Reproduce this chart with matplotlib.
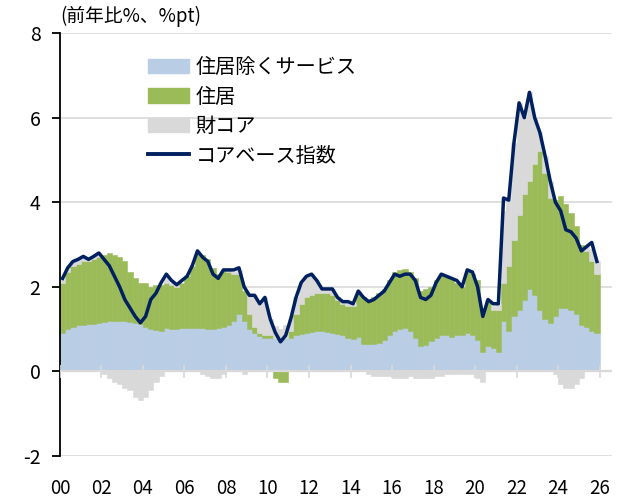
import numpy as np
import matplotlib
matplotlib.use("Agg")
import matplotlib.pyplot as plt
from matplotlib.patches import Patch
from matplotlib.lines import Line2D

plt.rcParams['font.family'] = ['Noto Sans CJK JP', 'DejaVu Sans']

# quarterly values, 2000Q1 .. 2025Q4 (%pt, y/y)
services_ex_housing = [
    0.92, 1.00, 1.06, 1.10,  1.10, 1.12, 1.12, 1.15,  1.18, 1.20, 1.20, 1.20,
    1.20, 1.18, 1.15, 1.12,  1.05, 1.00, 0.98, 0.95,  1.02, 1.00, 1.00, 1.02,
    1.03, 1.03, 1.03, 1.02,  1.00, 1.00, 1.02, 1.06,  1.10, 1.20, 1.35, 1.20,
    1.00, 0.90, 0.83, 0.80,  0.80, 0.80, 0.78, 0.78,  0.80, 0.85, 0.88, 0.90,
    0.93, 0.95, 0.95, 0.93,  0.90, 0.88, 0.85, 0.80,  0.76, 0.82, 0.66, 0.64,
    0.65, 0.68, 0.75, 0.85,  0.95, 1.00, 1.03, 0.95,  0.80, 0.60, 0.62, 0.72,
    0.78, 0.87, 0.87, 0.82,  0.85, 0.85, 0.90, 0.85,  0.75, 0.45, 0.60, 0.55,
    0.45, 1.20, 0.95, 1.30,  1.45, 1.70, 1.95, 1.80,  1.45, 1.25, 1.15, 1.30,
    1.50, 1.50, 1.45, 1.35,  1.10, 1.05, 0.95, 0.92,
]
housing = [
    1.18, 1.35, 1.44, 1.45,  1.50, 1.48, 1.53, 1.55,  1.57, 1.60, 1.55, 1.50,
    1.40, 1.17, 1.05, 0.98,  1.05, 1.00, 1.07, 1.10,  1.08, 1.05, 1.00, 1.08,
    1.22, 1.47, 1.77, 1.73,  1.65, 1.45, 1.28, 1.34,  1.25, 1.10, 0.95, 0.70,
    0.35, 0.15, 0.07, 0.05,  0.05, -0.15, -0.25, -0.25,  0.15, 0.50, 0.72, 0.85,
    0.87, 0.90, 0.90, 0.92,  0.90, 0.82, 0.75, 0.75,  0.79, 1.03, 1.09, 1.01,
    1.10, 1.17, 1.20, 1.30,  1.40, 1.40, 1.39, 1.40,  1.40, 1.30, 1.33, 1.28,
    1.37, 1.43, 1.38, 1.38,  1.25, 1.15, 1.45, 1.45,  1.40, 0.95, 1.05, 0.90,
    1.00, 0.90, 1.55, 1.80,  2.25, 2.50, 2.55, 3.10,  3.75, 3.45, 2.95, 2.75,
    2.65, 2.45, 2.30, 2.10,  1.90, 1.80, 1.65, 1.38,
]
core_goods = [
    0.10, 0.10, 0.10, 0.10,  0.10, 0.05, 0.05, 0.10,  -0.05, -0.15, -0.25, -0.30,
    -0.40, -0.45, -0.60, -0.68,  -0.60, -0.45, -0.25, -0.10,  0.10, 0.05, 0.05, 0.00,
    0.00, 0.00, 0.05, -0.05,  -0.10, -0.15, -0.15, -0.05,  0.05, 0.05, 0.10, -0.05,
    0.45, 0.75, 0.70, 0.90,  0.40, 0.27, 0.22, 0.32,  0.30, 0.40, 0.50, 0.50,
    0.50, 0.30, 0.10, 0.10,  0.15, 0.05, 0.05, 0.10,  0.05, 0.05, 0.00, -0.05,
    -0.10, -0.10, -0.10, -0.10,  -0.15, -0.15, -0.15, -0.10,  -0.15, -0.15, -0.15, -0.15,
    -0.10, -0.10, -0.05, -0.05,  -0.05, -0.05, -0.05, -0.05,  -0.15, -0.25, 0.05, 0.10,
    0.15, 1.70, 1.55, 2.30,  2.65, 1.80, 2.10, 1.10,  0.45, 0.40, 0.40, -0.05,
    -0.30, -0.40, -0.40, -0.30,  -0.15, 0.10, 0.30, 0.30,
]
core_index = [
    2.20, 2.45, 2.60, 2.65,  2.72, 2.65, 2.72, 2.80,  2.65, 2.50, 2.25, 2.00,
    1.70, 1.50, 1.30, 1.15,  1.30, 1.70, 1.85, 2.10,  2.30, 2.15, 2.05, 2.15,
    2.25, 2.50, 2.85, 2.70,  2.60, 2.30, 2.20, 2.40,  2.40, 2.40, 2.45, 2.00,
    1.80, 1.80, 1.60, 1.75,  1.25, 0.92, 0.70, 0.85,  1.25, 1.75, 2.10, 2.25,
    2.30, 2.15, 1.95, 1.95,  1.95, 1.75, 1.65, 1.65,  1.60, 1.90, 1.75, 1.65,
    1.70, 1.80, 1.90, 2.10,  2.30, 2.25, 2.30, 2.30,  2.15, 1.75, 1.70, 1.80,
    2.10, 2.30, 2.25, 2.20,  2.15, 2.00, 2.40, 2.35,  2.00, 1.30, 1.70, 1.60,
    1.60, 4.10, 4.05, 5.40,  6.35, 6.00, 6.60, 6.00,  5.65, 5.10, 4.50, 4.00,
    3.80, 3.35, 3.30, 3.15,  2.85, 2.95, 3.05, 2.60,
]
labels = ['住居除くサービス', '住居', '財コア', 'コアベース指数']
colors = ['#b9cde5', '#9bbb59', '#d9d9d9']
line_color = '#002060'
year_ticks = list(range(2000, 2027, 2))

t = 2000 + np.arange(len(core_index)) * 0.25

fig = plt.figure(figsize=(6.26, 5.01), dpi=100)
ax = fig.add_axes([0.0958, 0.0898, 0.8818, 0.8442])

# stacked columns, positives and negatives stacked separately
pos_base = np.zeros(len(t))
neg_base = np.zeros(len(t))
for vals, c in zip([services_ex_housing, housing, core_goods], colors):
    v = np.array(vals)
    bottom = np.where(v >= 0, pos_base, neg_base)
    ax.bar(t, v, width=0.25, bottom=bottom, align='edge', color=c,
           edgecolor=c, linewidth=0.4, zorder=2)
    pos_base = pos_base + np.where(v >= 0, v, 0)
    neg_base = neg_base + np.where(v < 0, v, 0)

ax.plot(t + 0.125, core_index, color=line_color, lw=2.5, zorder=4,
        solid_joinstyle='round')

# grid and zero line
for y in [8, 6, 4, 2, -2]:
    ax.axhline(y, color='#d9d9d9', lw=1.2, zorder=1)
ax.axhline(0, color='#d9d9d9', lw=1.6, zorder=3)
ax.vlines(year_ticks, -0.15, 0.15, color='#d9d9d9', lw=1.2, zorder=3)

ax.set_xlim(2000, 2026.6)
ax.set_ylim(-2, 8)
ax.set_yticks([-2, 0, 2, 4, 6, 8])
ax.set_yticklabels(['-2', '0', '2', '4', '6', '8'])
ax.set_xticks(year_ticks)
ax.set_xticklabels(['%02d' % (y % 100) for y in year_ticks])
ax.tick_params(axis='x', length=0, pad=16, labelsize=13.5)
ax.tick_params(axis='y', length=6, width=1.3, direction='out', pad=8,
               labelsize=14)
for s in ['top', 'right', 'bottom']:
    ax.spines[s].set_visible(False)
ax.spines['left'].set_linewidth(1.3)

fig.text(0.097, 0.968, '(前年比%、%pt)', fontsize=13.5, va='center', ha='left')

handles = [Patch(facecolor=c, edgecolor=c) for c in colors]
handles.append(Line2D([0], [0], color=line_color, lw=2.8))
ax.legend(handles, labels, loc='upper left', bbox_to_anchor=(0.145, 0.962),
          frameon=False, fontsize=14.5, handlelength=2.05, handleheight=0.72,
          handletextpad=0.3, labelspacing=0.42, borderaxespad=0)

fig.savefig('out.png', dpi=100)
